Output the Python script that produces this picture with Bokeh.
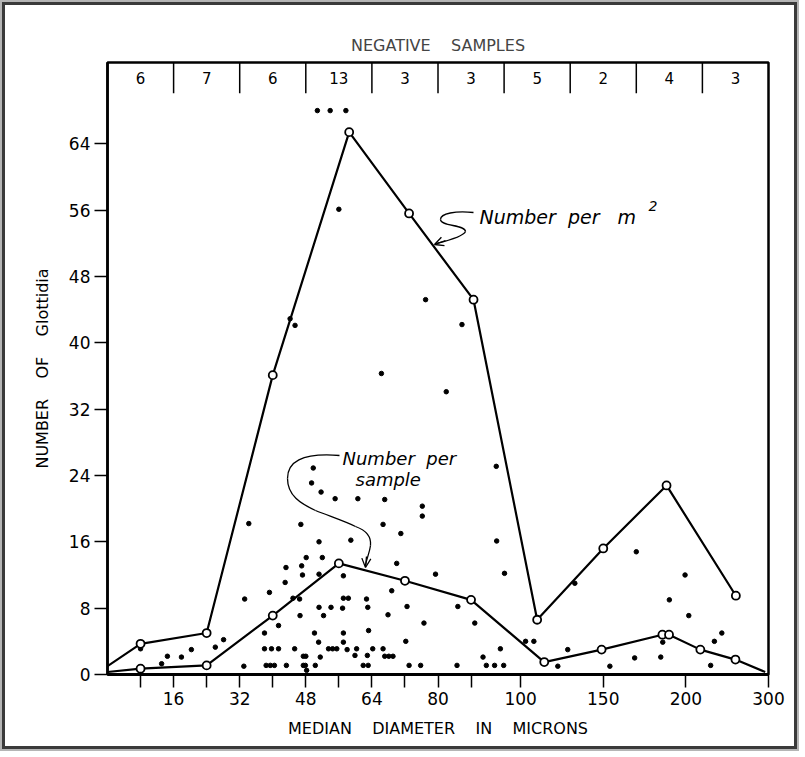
import numpy as np
from bokeh.plotting import figure
from bokeh.models import FixedTicker, Range1d, Arrow, OpenHead
from bokeh.core.properties import value
from bokeh.embed import file_html
from bokeh.resources import INLINE

# ---------------- data ----------------
# x axis as drawn: linear up to 100 microns, then compressed for 100-200 and 200-300
axis_microns = [0, 100, 200, 300]
axis_pos = [0, 100, 140, 160]

x_tick_microns = [8, 16, 24, 32, 40, 48, 56, 64, 72, 80, 88, 100, 150, 200, 300]
x_tick_labels = ["", "16", "", "32", "", "48", "", "64", "", "80", "", "100", "150", "200", "300"]
y_ticks = [0, 8, 16, 24, 32, 40, 48, 56, 64]

negative_samples = [6, 7, 6, 13, 3, 3, 5, 2, 4, 3]

per_m2_microns = [0, 8, 24, 40, 58.5, 73, 88.6, 110, 150, 188.3, 260.5]
per_m2_values = [1.0, 3.7, 5.0, 36.1, 65.4, 55.6, 45.2, 6.6, 15.2, 22.8, 9.5]

per_sample_microns = [0, 8, 24, 40, 56, 72, 88, 114.3, 149, 185.8, 189.8, 217.5, 260, 296]
per_sample_values = [0.3, 0.7, 1.1, 7.1, 13.4, 11.3, 9.0, 1.5, 3.0, 4.8, 4.8, 3.0, 1.8, 0.3]

dot_microns = [50.8, 53.9, 57.7, 56.0, 44.2, 45.4, 77.0, 85.8, 66.3, 82.0, 94.1, 49.8, 49.4,
               51.7, 55.1, 60.6, 67.1, 76.2, 76.2, 34.2, 46.8, 66.7, 71.0, 51.2, 58.9, 94.2,
               48.1, 52.0, 43.2, 47.0, 47.2, 51.2, 57.1, 70.0, 79.4, 96.1, 43.0, 39.2, 33.2,
               44.9, 46.5, 68.8, 57.1, 58.3, 62.7, 51.2, 54.1, 56.9, 63.0, 72.5, 84.8, 46.6,
               52.3, 67.9, 41.4, 76.6, 88.9, 28.1, 26.1, 38.0, 50.1, 57.1, 63.2, 72.2, 57.1,
               51.1, 14.5, 17.9, 20.3, 13.1, 8.0, 33.0, 38.4, 39.4, 40.4, 43.3, 47.4, 47.9,
               48.2, 50.3, 61.9, 63.1, 73.0, 75.8, 38.0, 39.7, 41.4, 45.3, 47.4, 48.0, 53.5,
               54.5, 55.5, 58.0, 60.3, 64.2, 66.7, 67.1, 68.1, 69.1, 59.9, 62.9, 51.5, 84.6,
               90.9, 91.7, 93.7, 95.9, 95.1, 103, 108, 122.5, 128.5, 132.8, 154, 169, 184.8,
               186, 190, 203.5, 230, 234.5, 243.5, 170, 199.5]
dot_counts = [68.0, 68.0, 68.0, 56.1, 42.9, 42.1, 45.2, 42.2, 36.3, 34.1, 25.1, 24.9, 23.1,
              22.0, 21.2, 21.2, 21.1, 20.3, 19.1, 18.2, 18.1, 18.1, 17.0, 16.0, 16.2, 16.1,
              14.1, 14.1, 12.9, 13.1, 12.0, 12.1, 11.9, 13.4, 12.1, 12.2, 11.1, 9.9, 9.1,
              9.2, 9.1, 10.1, 9.2, 9.2, 9.1, 8.1, 8.1, 8.0, 8.1, 8.2, 8.2, 7.1,
              7.1, 7.2, 5.9, 6.2, 6.2, 4.2, 3.3, 5.0, 5.0, 5.0, 5.3, 4.0, 3.9,
              3.9, 2.2, 2.1, 3.0, 1.3, 3.1, 1.0, 1.1, 1.1, 1.1, 1.1, 1.1, 1.1,
              0.5, 1.1, 1.1, 1.1, 1.1, 1.1, 3.1, 3.1, 3.1, 3.1, 2.2, 2.2, 3.1,
              3.1, 3.1, 3.0, 3.1, 3.1, 3.1, 2.2, 2.2, 2.2, 2.3, 2.3, 2.1, 1.1,
              2.1, 1.1, 1.1, 1.1, 3.1, 4.0, 4.0, 1.0, 3.0, 11.0, 1.0, 2.0, 2.1,
              3.9, 9.0, 7.1, 1.1, 4.0, 5.0, 14.8, 12.0]


def to_pos(m):
    return np.interp(np.asarray(m, dtype=float), axis_microns, axis_pos)


# ---------------- figure ----------------
FONT = "DejaVu Sans"
X0, X1 = 0, 160
Y0, Y1 = 0, 73.8
OFF = 5  # page frame offset (margin + border)

p = figure(width=805 - 2 * OFF, height=757 - 2 * OFF, output_backend="svg", toolbar_location=None,
           x_range=Range1d(X0, X1), y_range=Range1d(Y0, Y1),
           min_border_left=107 - OFF, min_border_right=805 - OFF - 768,
           min_border_top=62 - OFF, min_border_bottom=757 - OFF - 674)
p.styles = {"border": "3px solid #3a3a3a", "margin": "2px", "outline": "2px solid #b5b5b5"}
p.background_fill_color = "white"
p.border_fill_color = "white"
p.outline_line_color = "black"
p.outline_line_width = 2.5
p.grid.visible = False

p.title.text = "NEGATIVE\u00a0\u00a0\u00a0\u00a0SAMPLES"
p.title.align = "center"
p.title.text_font = FONT
p.title.text_font_size = "16px"
p.title.text_font_style = "normal"
p.title.standoff = 16

tick_pos = [int(round(v)) for v in to_pos(x_tick_microns)]
p.xaxis.ticker = FixedTicker(ticks=tick_pos)
p.xaxis.major_label_overrides = {t: lab for t, lab in zip(tick_pos, x_tick_labels)}
p.yaxis.ticker = FixedTicker(ticks=y_ticks)

for ax in (p.xaxis[0], p.yaxis[0]):
    ax.minor_tick_line_color = None
    ax.major_tick_in = 0
    ax.major_tick_out = 13
    ax.major_tick_line_width = 1.5
    ax.major_tick_line_color = "black"
    ax.axis_line_color = "black"
    ax.major_label_text_font = FONT
    ax.major_label_text_font_size = "17px"
    ax.major_label_text_color = "black"
    ax.axis_label_text_font = FONT
    ax.axis_label_text_font_size = "16px"
    ax.axis_label_text_font_style = "normal"
    ax.axis_label_text_color = "black"
    ax.major_label_standoff = 4

p.xaxis.axis_line_width = 3
p.yaxis.axis_line_width = 2.5
p.xaxis.axis_label = "MEDIAN\u00a0\u00a0\u00a0 DIAMETER\u00a0\u00a0\u00a0 IN\u00a0\u00a0\u00a0 MICRONS"
p.yaxis.axis_label = "NUMBER\u00a0\u00a0\u00a0 OF\u00a0\u00a0\u00a0 Glottidia"
p.xaxis.axis_label_standoff = 11
p.yaxis.axis_label_standoff = 14
p.yaxis.major_label_orientation = "horizontal"

# ---- negative samples box (top strip) ----
n = len(negative_samples)
col_w = (X1 - X0) / n
edges = [X0 + col_w * i for i in range(1, n)]
box_bottom = 70.1
p.segment(x0=edges, y0=[box_bottom] * len(edges), x1=edges, y1=[Y1] * len(edges),
          line_color="black", line_width=1.5)
centers = [X0 + col_w * (i + 0.5) for i in range(n)]
p.text(x=centers, y=[(box_bottom + Y1) / 2] * n, text=[str(v) for v in negative_samples],
       text_align="center", text_baseline="middle", text_font=value(FONT),
       text_font_size="15px", text_color="black")

# ---- scatter of individual samples ----
p.scatter(x=to_pos(dot_microns), y=dot_counts, size=4.5, marker="circle",
          fill_color="black", line_color="black")

# ---- curves ----
mx = to_pos(per_m2_microns)
p.line(x=mx, y=per_m2_values, line_color="black", line_width=2.2)
p.scatter(x=mx[1:], y=per_m2_values[1:], size=8, marker="circle",
          fill_color="white", line_color="black", line_width=1.8)

sx = to_pos(per_sample_microns)
p.line(x=sx, y=per_sample_values, line_color="black", line_width=2.2)
p.scatter(x=sx[1:-1], y=per_sample_values[1:-1], size=8, marker="circle",
          fill_color="white", line_color="black", line_width=1.8)

# ---- annotations (positions given in pixels of the page) ----
PXU = 661 / (X1 - X0)
PYU = 612 / (Y1 - Y0)


def X(px):
    return (px - 107) / PXU


def Y(py):
    return (674 - py) / PYU


p.text(x=[X(479)], y=[Y(216)], text=["Number\u00a0 per\u00a0\u00a0 m"], text_align="left",
       text_baseline="middle", text_font=value(FONT), text_font_style="italic",
       text_font_size="19px", text_color="black")
p.text(x=[X(648)], y=[Y(205)], text=["2"], text_align="left", text_baseline="middle",
       text_font=value(FONT), text_font_style="italic", text_font_size="14px", text_color="black")

p.text(x=[X(342)], y=[Y(458)], text=["Number\u00a0 per"], text_align="left",
       text_baseline="middle", text_font=value(FONT), text_font_style="italic",
       text_font_size="18px", text_color="black")
p.text(x=[X(355)], y=[Y(479)], text=["sample"], text_align="left",
       text_baseline="middle", text_font=value(FONT), text_font_style="italic",
       text_font_size="18px", text_color="black")

# squiggly leader to the "per m2" curve
b1 = [((473, 212), (455, 210), (440, 213), (440, 219)),
      ((440, 219), (440, 226), (465, 224), (465, 231)),
      ((465, 231), (463, 236), (448, 240), (436, 243))]
# leader to the "per sample" curve
b2 = [((339, 455), (300, 452), (287, 462), (287, 478)),
      ((287, 478), (287, 495), (300, 503), (315, 510)),
      ((315, 510), (330, 516), (345, 521), (355, 526)),
      ((355, 526), (366, 530), (371, 536), (370, 545)),
      ((370, 545), (369, 553), (366, 558), (365, 565))]
for seg in b1 + b2:
    (a, c0, c1, b) = seg
    p.bezier(x0=[X(a[0])], y0=[Y(a[1])], x1=[X(b[0])], y1=[Y(b[1])],
             cx0=[X(c0[0])], cy0=[Y(c0[1])], cx1=[X(c1[0])], cy1=[Y(c1[1])],
             line_color="black", line_width=1.3)
p.add_layout(Arrow(end=OpenHead(size=9, line_width=1.3, line_color="black"),
                   x_start=X(445), y_start=Y(240), x_end=X(434), y_end=Y(244),
                   line_width=1.3, line_color="black"))
p.add_layout(Arrow(end=OpenHead(size=9, line_width=1.3, line_color="black"),
                   x_start=X(366), y_start=Y(556), x_end=X(365), y_end=Y(567),
                   line_width=1.3, line_color="black"))

open("out.html", "w").write(file_html(p, INLINE))
